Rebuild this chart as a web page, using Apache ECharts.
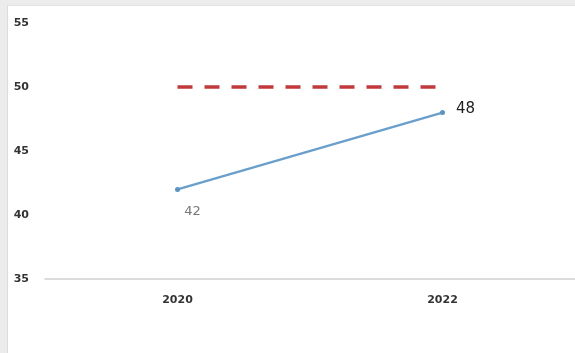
<!DOCTYPE html>
<html>
<head>
<meta charset="utf-8">
<script src="https://cdn.jsdelivr.net/npm/echarts@6/dist/echarts.min.js"></script>
<style>
  html, body { margin: 0; padding: 0; width: 575px; height: 353px; background: #ececec; overflow: hidden; }
  #frame { position: absolute; left: 7px; top: 5px; right: 0; bottom: 0; background: #fff; border-left: 1px solid #dcdcdc; border-top: 1px solid #e2e2e2; }
  #chart { position: absolute; left: 0; top: 0; width: 575px; height: 353px; }
</style>
</head>
<body>
<div id="frame"></div>
<div id="chart"></div>
<script>
// Years on the x axis
const years = ['2020', '2022'];
// Measured value per year
const actual = [42, 48];
// Target level drawn as a dashed line
const target = [50, 50];
// Value axis range and step
const yMin = 35, yMax = 55, yStep = 5;

const chart = echarts.init(document.getElementById('chart'), null, { renderer: 'canvas' });
chart.setOption({
  backgroundColor: 'transparent',
  animation: false,
  grid: { left: 45, right: 0, top: 23, bottom: 74 },
  xAxis: {
    type: 'category',
    data: years,
    boundaryGap: true,
    axisLine: { lineStyle: { color: '#cfcfcf', width: 1.5 } },
    axisTick: { show: false },
    axisLabel: { color: '#333', fontSize: 11, fontWeight: 'bold', fontFamily: 'DejaVu Sans', margin: 16 }
  },
  yAxis: {
    type: 'value',
    min: yMin, max: yMax, interval: yStep,
    axisLine: { show: false },
    axisTick: { show: false },
    splitLine: { show: false },
    axisLabel: { color: '#333', fontSize: 11, fontWeight: 'bold', fontFamily: 'DejaVu Sans', margin: 16 }
  },
  series: [
    {
      name: 'Target',
      type: 'line',
      data: target,
      symbol: 'none',
      lineStyle: { color: '#c0393b', width: 3.5, type: [15, 12] },
      z: 2
    },
    {
      name: 'Actual',
      type: 'line',
      symbol: 'circle',
      symbolSize: 5,
      itemStyle: { color: '#5b93c2' },
      lineStyle: { color: '#6a9fcc', width: 2.5 },
      z: 3,
      data: [
        { value: actual[0], label: { show: true, position: 'bottom', offset: [15, 8], color: '#777', fontSize: 13, fontFamily: 'DejaVu Sans' } },
        { value: actual[1], label: { show: true, position: 'right', offset: [6, -3], color: '#222', fontSize: 15, fontFamily: 'DejaVu Sans' } }
      ]
    }
  ]
});
</script>
</body>
</html>
